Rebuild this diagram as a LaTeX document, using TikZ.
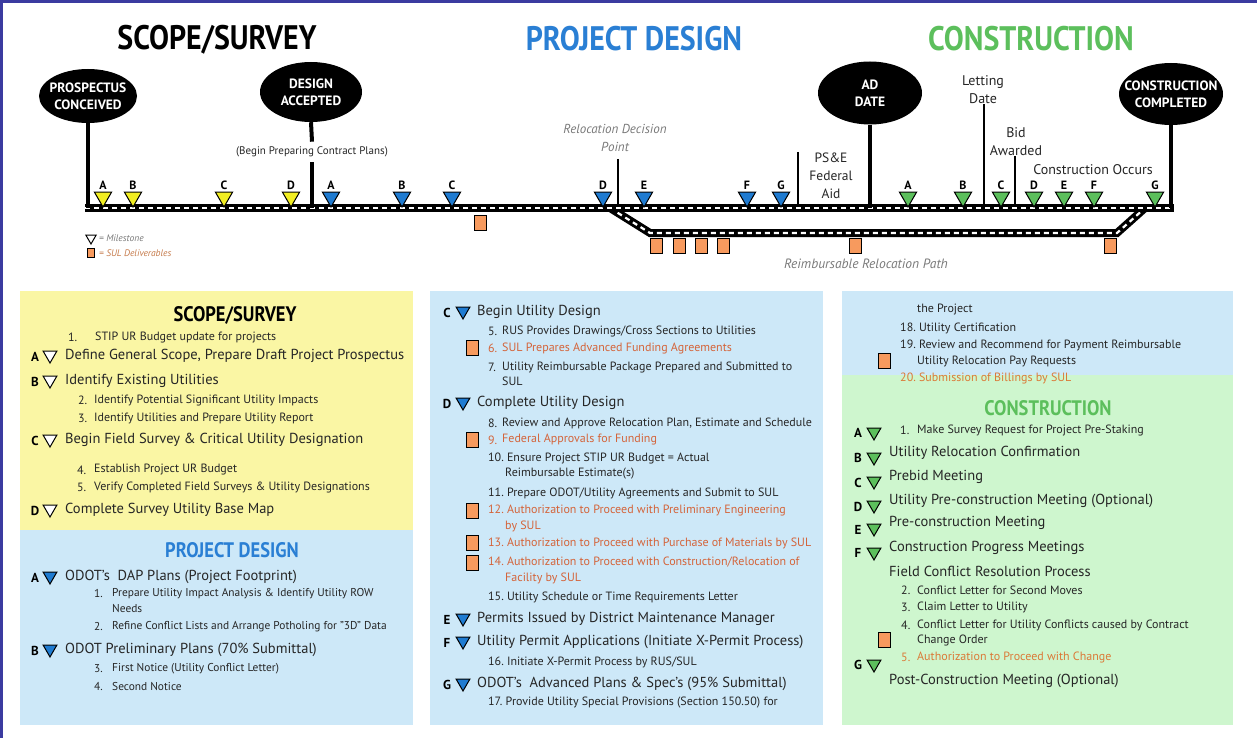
\documentclass[tikz,border=0pt]{standalone}
\usepackage{fontspec}
\setmainfont{PT Sans}
\newfontfamily\condf{PT Sans}[FakeStretch=0.88]
\usetikzlibrary{shapes.geometric}
\definecolor{ylw}{HTML}{F2EE22}
\definecolor{blu}{HTML}{1F7BD1}
\definecolor{grn}{HTML}{5CBF5C}
\definecolor{orng}{HTML}{F79A5E}
\definecolor{otxt}{HTML}{D4643A}
\definecolor{btxt}{HTML}{DB7A38}
\definecolor{pyel}{HTML}{FAF6A4}
\definecolor{pblu}{HTML}{CDE8F8}
\definecolor{pgrn}{HTML}{CEF6CE}
\definecolor{frame}{HTML}{3B3BA0}
\definecolor{txt}{HTML}{262626}
\definecolor{gtxt}{HTML}{7A7A7A}
\definecolor{ttlblue}{HTML}{2A7FD4}
\definecolor{ttlgreen}{HTML}{5CBF5C}
\tikzset{
  ell/.style={ellipse, fill=black, inner sep=0pt},
  elltxt/.style={text=white, font=\bfseries\fontsize{13.5}{17}\selectfont, align=center, inner sep=0pt},
  stem/.style={line width=4pt},
  thin/.style={line width=1.6pt},
  track/.style={line width=8pt, line join=miter},
  trackw/.style={line width=2.2pt, white, dash pattern=on 5pt off 4pt},
  ttri/.style={regular polygon, regular polygon sides=3, shape border rotate=180, minimum size=20pt, inner sep=0pt, draw=black, line width=1pt},
  tlet/.style={font=\bfseries\fontsize{12}{12}\selectfont, inner sep=0pt},
  sq/.style={draw=black, fill=orng, minimum width=12pt, minimum height=15pt, inner sep=0pt, line width=1pt},
  gray/.style={text=gtxt, font=\itshape\fontsize{13.5}{15}\selectfont, inner sep=0pt},
  lab/.style={text=txt, font=\fontsize{14}{18}\selectfont, inner sep=0pt, align=center},
  bigttl/.style={font=\condf\bfseries\fontsize{34}{34}\selectfont, inner sep=0pt},
  pttl/.style={font=\condf\bfseries\fontsize{21}{21}\selectfont, inner sep=0pt},
  big/.style={anchor=west, text=txt, font=\fontsize{14.5}{16}\selectfont, inner sep=0pt},
  sm/.style={anchor=west, text=txt, font=\fontsize{12}{13}\selectfont, inner sep=0pt},
  smp/.style={anchor=west, text=txt, font=\fontsize{11.4}{13}\selectfont, inner sep=0pt},
  osm/.style={sm, text=otxt},
  ltr/.style={font=\bfseries\fontsize{13}{13}\selectfont, inner sep=0pt, text=black},
  ptri/.style={regular polygon, regular polygon sides=3, shape border rotate=180, minimum size=16pt, inner sep=0pt, draw=black, line width=1pt},
}
\begin{document}
\begin{tikzpicture}[x=1pt,y=-1pt]
\useasboundingbox (0,0) rectangle (1257,738);
\fill[white] (0,0) rectangle (1257,738);
\fill[frame] (0,0) rectangle (1257,3);
\fill[frame] (0,0) rectangle (3,738);

% ---------- top titles
\node[bigttl, text=black] (tS) at (217,40) {SCOPE/SURVEY};
\node[bigttl, text=ttlblue] (tP) at (634,39) {PROJECT DESIGN};
\node[bigttl, text=ttlgreen] (tC) at (1031,39) {CONSTRUCTION};

% ---------- ellipses
\node[ell, minimum width=98pt, minimum height=54pt] (pc) at (88,96) {};
\node[elltxt] (pct) at (pc) {PROSPECTUS\\CONCEIVED};
\node[ell, minimum width=102pt, minimum height=60pt] (da) at (311,92) {};
\node[elltxt] (dat) at (da) {DESIGN\\ACCEPTED};
\node[ell, minimum width=104pt, minimum height=63pt] (ad) at (870,93) {};
\node[elltxt] (adt) at (ad) {AD\\DATE};
\node[ell, minimum width=104pt, minimum height=62pt] (cc) at (1171,94) {};
\node[elltxt] (cct) at (cc) {CONSTRUCTION\\COMPLETED};

% ---------- track
\coordinate (tL) at (85,208);
\coordinate (tR) at (1174,208);
\coordinate (b1) at (610,208);
\coordinate (b2) at (650,233);
\coordinate (b3) at (1117,233);
\coordinate (b4) at (1145,208);
\draw[track] (b1) -- (b2) -- (b3) -- (b4);
\draw[trackw] (b1) -- (b2) -- (b3) -- (b4);
\draw[track] (tL) -- (tR);
\draw[trackw] (tL) -- (tR);

% stems
\coordinate (pcT) at (88,208);
\coordinate (daT) at (312,208);
\coordinate (adT) at (870,208);
\coordinate (ccT) at (1171,208);
\draw[stem] (pc.south) -- (pcT);
\node[text=txt, font=\fontsize{11}{12}\selectfont, inner xsep=1pt, inner ysep=5pt] (bcp) at (312,152) {(Begin Preparing Contract Plans)};
\draw[stem] (da.south) -- (bcp.north -| daT);
\draw[stem] (bcp.south -| daT) -- (daT);
\draw[stem] (ad.south) -- (adT);
\draw[stem] (cc.south) -- (ccT);

% thin marker lines and their labels
\node[gray, align=center, font=\itshape\fontsize{13}{18}\selectfont] (rdp) at (615,138) {Relocation Decision\\Point};
\coordinate (rdpT) at (618,205);
\draw[thin] (618,159) coordinate (rdpB) -- (rdpT);
\node[lab, font=\fontsize{13.5}{18}\selectfont] (pse) at (831,176) {PS\&E\\Federal\\Aid};
\coordinate (pseT) at (798,205);
\draw[thin] (798,152) coordinate (pseB) -- (pseT);
\node[lab] (let) at (983,90) {Letting\\Date};
\coordinate (letT) at (984,205);
\draw[thin] (let.south -| letT) -- (letT);
\node[lab] (bid) at (1016,142) {Bid\\Awarded};
\coordinate (bidT) at (1015,205);
\draw[thin] (bid.south -| bidT) -- (bidT);
\node[lab] (cocc) at (1093,170) {Construction Occurs};
\node[gray] (rrp) at (866,264) {Reimbursable Relocation Path};

% timeline milestones
\foreach \n/\x/\l in {yA/103/A, yB/133/B, yC/224/C, yD/291/D}{
  \node[ttri, fill=ylw] (\n) at (\x,197) {};
  \node[tlet] (\n-l) at (\x,185) {\l};
}
\foreach \n/\x/\l in {bA/331/A, bB/402/B, bC/452/C, bD/603/D, bE/644/E, bF/747/F, bG/781/G}{
  \node[ttri, fill=blu] (\n) at (\x,197) {};
  \node[tlet] (\n-l) at (\x,185) {\l};
}
\foreach \n/\x/\l in {gA/908/A, gB/963/B, gC/1001/C, gD/1034/D, gE/1064/E, gF/1094/F, gG/1155/G}{
  \node[ttri, fill=grn] (\n) at (\x,197) {};
  \node[tlet] (\n-l) at (\x,185) {\l};
}

% SUL deliverables on timeline
\node[sq] (s0) at (480,223) {};
\foreach \n/\x in {s1/656, s2/679, s3/701, s4/723, s5/855, s6/1110}{
  \node[sq] (\n) at (\x,246) {};
}

% legend
\node[ptri, fill=white, minimum size=12pt] (lgT) at (91,238) {};
\node[anchor=west, text=gtxt, font=\itshape\fontsize{9.5}{10}\selectfont, inner sep=0pt] (lgTt) at (99,238) {= Milestone};
\node[sq, minimum width=7pt, minimum height=9pt, line width=0.8pt] (lgS) at (91,253) {};
\node[anchor=west, text=orng!80!black, font=\itshape\fontsize{9.5}{10}\selectfont, inner sep=0pt] (lgSt) at (99,253) {= SUL Deliverables};

% ---------- panels
\fill[pyel] (20,291) rectangle (413,530);
\fill[pblu] (20,530) rectangle (413,725);
\fill[pblu] (430,291) rectangle (823,725);
\fill[pblu] (842,291) rectangle (1233,375);
\fill[pgrn] (842,375) rectangle (1233,725);

% scope/survey panel
\node[pttl, text=black] (ssT) at (235,315) {SCOPE/SURVEY};
\node[sm] (ss1n) at (68,337) {1.};
\node[sm] (ss1) at (95,337) {STIP UR Budget update for projects};
\node[ltr] (ssAl) at (35,357) {A};
\node[ptri, fill=white] (ssAt) at (50,355) {};
\node[big] (ssA) at (65,356) {Define General Scope, Prepare Draft Project Prospectus};
\node[ltr] (ssBl) at (35,382) {B};
\node[ptri, fill=white] (ssBt) at (50,380) {};
\node[big] (ssB) at (65,381) {Identify Existing Utilities};
\node[sm] (ss2n) at (78,400) {2.};
\node[sm] (ss2) at (94,400) {Identify Potential Significant Utility Impacts};
\node[sm] (ss3n) at (78,418) {3.};
\node[sm] (ss3) at (94,418) {Identify Utilities and Prepare Utility Report};
\node[ltr] (ssCl) at (35,441) {C};
\node[ptri, fill=white] (ssCt) at (50,439) {};
\node[big] (ssC) at (65,440) {Begin Field Survey \& Critical Utility Designation};
\node[sm] (ss4n) at (77,470) {4.};
\node[sm] (ss4) at (94,470) {Establish Project UR Budget};
\node[sm] (ss5n) at (77,487) {5.};
\node[sm] (ss5) at (94,487) {Verify Completed Field Surveys \& Utility Designations};
\node[ltr] (ssDl) at (35,511) {D};
\node[ptri, fill=white] (ssDt) at (50,509) {};
\node[big] (ssD) at (65,510) {Complete Survey Utility Base Map};

% project design left panel
\node[pttl, text=ttlblue] (pdT) at (232,550) {PROJECT DESIGN};
\node[ltr] (pdAl) at (35,578) {A};
\node[ptri, fill=blu] (pdAt) at (50,576) {};
\node[big] (pdA) at (65,577) {ODOT's~ DAP Plans (Project Footprint)};
\node[smp] (pd1n) at (94,594) {1.};
\node[smp] (pd1) at (112,594) {Prepare Utility Impact Analysis \& Identify Utility ROW};
\node[smp] (pd1b) at (112,609) {Needs};
\node[smp] (pd2n) at (94,627) {2.};
\node[smp] (pd2) at (112,627) {Refine Conflict Lists and Arrange Potholing for "3D" Data};
\node[ltr] (pdBl) at (35,651) {B};
\node[ptri, fill=blu] (pdBt) at (50,649) {};
\node[big] (pdB) at (65,650) {ODOT Preliminary Plans (70\% Submittal)};
\node[smp] (pd3n) at (94,669) {3.};
\node[smp] (pd3) at (112,669) {First Notice (Utility Conflict Letter)};
\node[smp] (pd4n) at (94,687) {4.};
\node[smp] (pd4) at (112,687) {Second Notice};

% middle panel
\node[ltr] (mCl) at (447,313) {C};
\node[ptri, fill=blu] (mCt) at (463,311) {};
\node[big] (mC) at (477,312) {Begin Utility Design};
\node[sm] (m5n) at (488,331) {5.};
\node[sm] (m5) at (502,331) {RUS Provides Drawings/Cross Sections to Utilities};
\node[sq] (m6s) at (472,348) {};
\node[osm] (m6n) at (488,348) {6.};
\node[osm] (m6) at (502,348) {SUL Prepares Advanced Funding Agreements};
\node[sm] (m7n) at (488,367) {7.};
\node[sm] (m7) at (502,367) {Utility Reimbursable Package Prepared and Submitted to};
\node[sm] (m7b) at (502,381) {SUL};
\node[ltr] (mDl) at (447,404) {D};
\node[ptri, fill=blu] (mDt) at (463,402) {};
\node[big] (mD) at (477,403) {Complete Utility Design};
\node[sm] (m8n) at (488,423) {8.};
\node[sm] (m8) at (502,423) {Review and Approve Relocation Plan, Estimate and Schedule};
\node[sq] (m9s) at (472,440) {};
\node[osm] (m9n) at (488,440) {9.};
\node[osm] (m9) at (502,440) {Federal Approvals for Funding};
\node[sm] (m10) at (488,458) {10.~Ensure Project STIP UR Budget = Actual};
\node[sm] (m10b) at (505,474) {Reimbursable Estimate(s)};
\node[sm] (m11) at (488,493) {11.~Prepare ODOT/Utility Agreements and Submit to SUL};
\node[sq] (m12s) at (472,511) {};
\node[osm] (m12) at (488,510) {12.~Authorization to Proceed with Preliminary Engineering};
\node[osm] (m12b) at (505,526) {by SUL};
\node[sq] (m13s) at (472,543) {};
\node[osm] (m13) at (488,543) {13.~Authorization to Proceed with Purchase of Materials by SUL};
\node[sq] (m14s) at (472,563) {};
\node[osm] (m14) at (488,562) {14.~Authorization to Proceed with Construction/Relocation of};
\node[osm] (m14b) at (505,578) {Facility by SUL};
\node[sm] (m15) at (488,597) {15.~Utility Schedule or Time Requirements Letter};
\node[ltr] (mEl) at (447,620) {E};
\node[ptri, fill=blu] (mEt) at (463,618) {};
\node[big] (mE) at (477,619) {Permits Issued by District Maintenance Manager};
\node[ltr] (mFl) at (447,643) {F};
\node[ptri, fill=blu] (mFt) at (463,641) {};
\node[big] (mF) at (477,642) {Utility Permit Applications (Initiate X-Permit Process)};
\node[sm] (m16) at (488,662) {16.~Initiate X-Permit Process by RUS/SUL};
\node[ltr] (mGl) at (447,685) {G};
\node[ptri, fill=blu] (mGt) at (463,683) {};
\node[big] (mG) at (477,684) {ODOT's~ Advanced Plans \& Spec's (95\% Submittal)};
\node[sm] (m17) at (488,703) {17.~Provide Utility Special Provisions (Section 150.50) for};

% right panel (blue part)
\node[sm] (r17b) at (917,310) {the Project};
\node[sm] (r18) at (900,328) {18.~Utility Certification};
\node[sm] (r19) at (900,345) {19.~Review and Recommend for Payment Reimbursable};
\node[sm] (r19b) at (917,361) {Utility Relocation Pay Requests};
\node[sq] (r19s) at (884,361) {};
\node[sm, text=btxt] (r20) at (900,378) {20.~Submission of Billings by SUL};

% construction panel
\node[pttl, text=ttlgreen] (cT) at (1048,408) {CONSTRUCTION};
\node[ltr] (cAl) at (858,433) {A};
\node[ptri, fill=grn] (cAt) at (874,432) {};
\node[sm] (c1n) at (900,430) {1.};
\node[sm] (c1) at (917,430) {Make Survey Request for Project Pre-Staking};
\node[ltr] (cBl) at (858,458) {B};
\node[ptri, fill=grn] (cBt) at (874,457) {};
\node[big] (cB) at (889,453) {Utility Relocation Confirmation};
\node[ltr] (cCl) at (858,483) {C};
\node[ptri, fill=grn] (cCt) at (874,481) {};
\node[big] (cC) at (889,477) {Prebid Meeting};
\node[ltr] (cDl) at (858,507) {D};
\node[ptri, fill=grn] (cDt) at (874,505) {};
\node[big] (cD) at (889,501) {Utility Pre-construction Meeting (Optional)};
\node[ltr] (cEl) at (858,530) {E};
\node[ptri, fill=grn] (cEt) at (874,528) {};
\node[big] (cE) at (889,523) {Pre-construction Meeting};
\node[ltr] (cFl) at (858,553) {F};
\node[ptri, fill=grn] (cFt) at (874,552) {};
\node[big] (cF) at (889,548) {Construction Progress Meetings};
\node[big] (cFr) at (889,571) {Field Conflict Resolution Process};
\node[sm] (c2n) at (901,590) {2.};
\node[sm] (c2) at (917,590) {Conflict Letter for Second Moves};
\node[sm] (c3n) at (901,607) {3.};
\node[sm] (c3) at (917,607) {Claim Letter to Utility};
\node[sm] (c4n) at (901,625) {4.};
\node[sm] (c4) at (917,625) {Conflict Letter for Utility Conflicts caused by Contract};
\node[sm] (c4b) at (917,640) {Change Order};
\node[sq] (c4s) at (884,640) {};
\node[sm, text=btxt] (c5n) at (901,657) {5.};
\node[sm, text=btxt] (c5) at (917,657) {Authorization to Proceed with Change};
\node[ltr] (cGl) at (858,665) {G};
\node[ptri, fill=grn] (cGt) at (874,664) {};
\node[big] (cG) at (889,681) {Post-Construction Meeting (Optional)};
\end{tikzpicture}
\end{document}
